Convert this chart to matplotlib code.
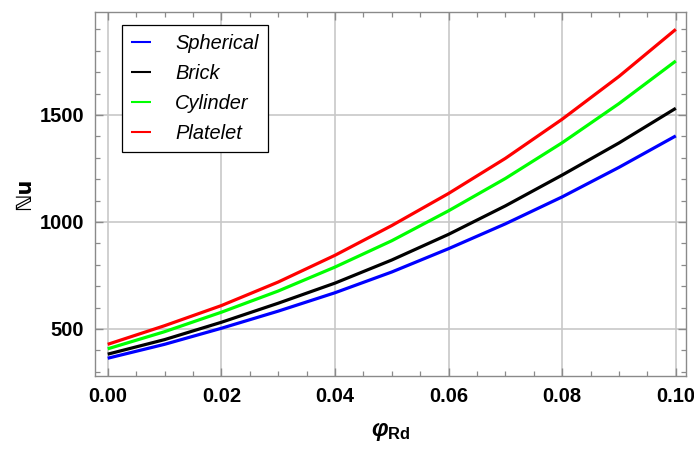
import matplotlib
matplotlib.use("Agg")
import matplotlib.pyplot as plt
from matplotlib.ticker import MultipleLocator, FormatStrFormatter

# volume fraction of the nanoparticles
phi = [0.00, 0.01, 0.02, 0.03, 0.04, 0.05, 0.06, 0.07, 0.08, 0.09, 0.10]

# Nusselt number for each particle shape
nu_spherical = [363, 428, 503, 583, 669, 766, 875, 991, 1117, 1255, 1402]
nu_brick = [382, 450, 531, 620, 714, 822, 942, 1075, 1219, 1369, 1531]
nu_cylinder = [407, 487, 578, 677, 789, 912, 1052, 1203, 1370, 1553, 1752]
nu_platelet = [428, 515, 609, 719, 844, 983, 1133, 1297, 1480, 1680, 1900]

names = ["Spherical", "Brick", "Cylinder", "Platelet"]
colors = ["#0000ff", "#000000", "#00ff00", "#ff0000"]

plt.rcParams['font.family'] = ['Liberation Sans', 'DejaVu Sans']
plt.rcParams['mathtext.fontset'] = 'custom'
plt.rcParams['mathtext.it'] = 'Liberation Sans:italic:bold'
plt.rcParams['mathtext.bf'] = 'Liberation Sans:bold'
plt.rcParams['mathtext.rm'] = 'Liberation Sans:bold'

fig = plt.figure(figsize=(6.94, 4.51), dpi=100)
ax = fig.add_axes([0.1369, 0.1663, 0.8516, 0.8071])

for ys, c, n in zip([nu_spherical, nu_brick, nu_cylinder, nu_platelet], colors, names):
    ax.plot(phi, ys, color=c, lw=2.3, label=n, solid_capstyle='butt')

ax.set_xlim(-0.00224, 0.1018)
ax.set_ylim(280, 1981)

ax.xaxis.set_major_locator(MultipleLocator(0.02))
ax.xaxis.set_minor_locator(MultipleLocator(0.005))
ax.xaxis.set_major_formatter(FormatStrFormatter('%.2f'))
ax.yaxis.set_major_locator(MultipleLocator(500))
ax.yaxis.set_minor_locator(MultipleLocator(100))

ax.grid(True, which='major', color='#c8c8c8', lw=1.2)
ax.set_axisbelow(True)

for s in ax.spines.values():
    s.set_color('#8a8a8a')
    s.set_linewidth(1.0)

ax.tick_params(which='both', direction='in', top=True, right=True, color='#8a8a8a')
ax.tick_params(which='major', length=6, width=1.0, labelsize=14.5, pad=8)
ax.tick_params(which='minor', length=3.5, width=0.9)
for lab in ax.get_xticklabels() + ax.get_yticklabels():
    lab.set_fontweight('bold')

ax.set_xlabel(r'$\mathit{φ}_{\mathbf{Rd}}$', fontsize=17, labelpad=10)
ax.set_ylabel('ℕu', fontsize=15, fontweight='bold', labelpad=4,
              family=['DejaVu Sans'])

leg = ax.legend(loc='upper left', bbox_to_anchor=(0.046, 0.964), frameon=True,
                fancybox=False, framealpha=1, edgecolor='black',
                prop={'style': 'italic', 'size': 14.4},
                handlelength=1.0, handletextpad=1.2, labelspacing=0.55,
                borderpad=0.45, borderaxespad=0)
leg.get_frame().set_linewidth(0.9)
for h in leg.get_lines():
    h.set_linewidth(1.5)

fig.savefig("out.png", dpi=100)
